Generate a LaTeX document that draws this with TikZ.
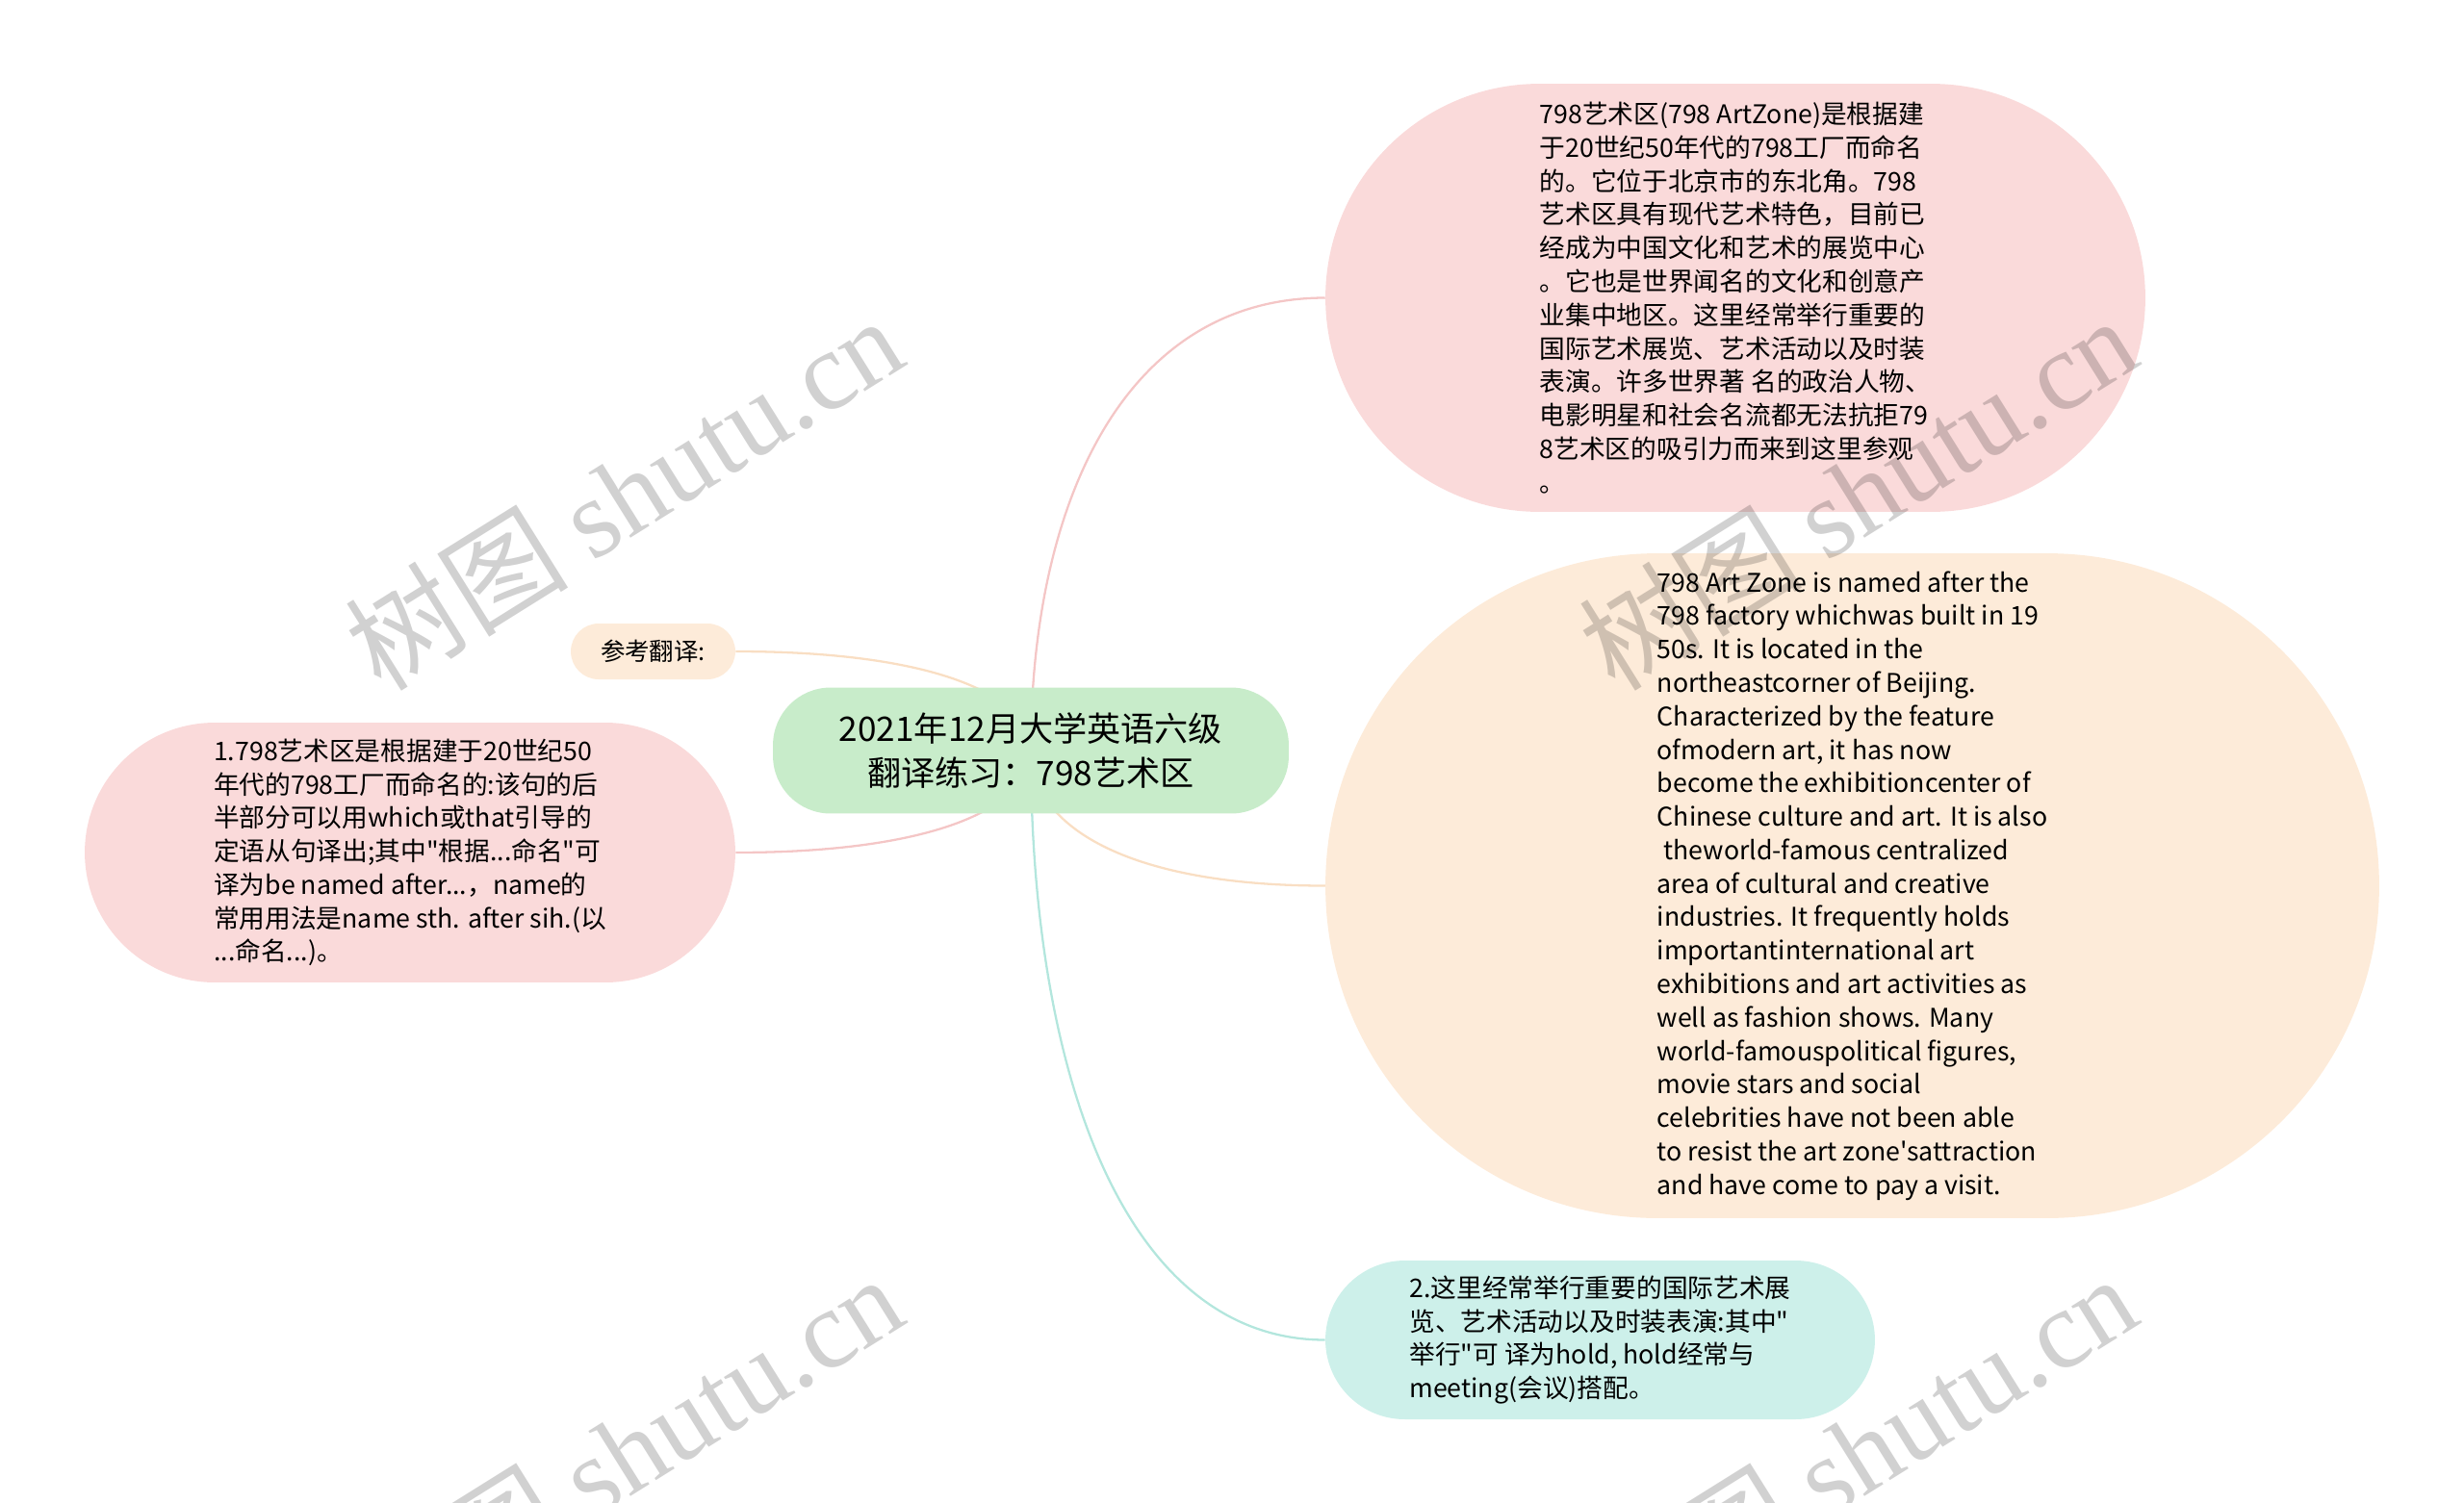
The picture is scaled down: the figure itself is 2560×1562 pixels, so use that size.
\documentclass[tikz,border=0pt]{standalone}
\usepackage{fontspec}
\setmainfont{Noto Sans CJK SC}[Ligatures=TeXOff]
\newfontfamily\wmfont{Liberation Serif}
\usepackage{tikz}
\usetikzlibrary{backgrounds,calc}
\definecolor{greenfill}{HTML}{C8ECCA}
\definecolor{pinkfill}{HTML}{FADADA}
\definecolor{peachfill}{HTML}{FDEBD9}
\definecolor{tealfill}{HTML}{CDF0EA}
\definecolor{pinkline}{HTML}{F4C6C6}
\definecolor{peachline}{HTML}{F9DEC3}
\definecolor{tealline}{HTML}{B3E6DD}

\begin{document}
\begin{tikzpicture}[x=0.02cm,y=-0.02cm,
    topic/.style={rounded corners=#1,inner sep=0pt,align=left,
      font=\fontsize{15.2}{19.8}\selectfont},
    link/.style={line width=1.3pt},
    wmtext/.style={rotate=32,text=black,text opacity=0.18,
      font=\fontsize{66}{66}\selectfont}]
    \useasboundingbox (0,0) rectangle (2560,1562);
    \node[topic=1.2cm,fill=greenfill,minimum width=10.72cm,minimum height=2.62cm,
      align=center,font=\fontsize{20}{26}\selectfont] (root) at (1071,780)
      {2021年12月大学英语六级\\翻译练习：798艺术区};
    \node[topic=4.45cm,fill=pinkfill,minimum width=17.04cm,minimum height=8.9cm] (zh) at (1803,309.5)
      {798艺术区(798 ArtZone)是根据建\\
       于20世纪50年代的798工厂而命名\\
       的。它位于北京市的东北角。798\\
       艺术区具有现代艺术特色，目前已\\
       经成为中国文化和艺术的展览中心\\
       。它也是世界闻名的文化和创意产\\
       业集中地区。这里经常举行重要的\\
       国际艺术展览、艺术活动以及时装\\
       表演。许多世界著 名的政治人物、\\
       电影明星和社会名流都无法抗拒79\\
       8艺术区的吸引力而来到这里参观\\
       。};
    \node[topic=6.9cm,fill=peachfill,minimum width=21.9cm,minimum height=13.82cm] (en) at (1924.5,920.5)
      {798 Art Zone is named after the\\
       798 factory whichwas built in 19\\
       50s. It is located in the\\
       northeastcorner of Beijing.\\
       Characterized by the feature\\
       ofmodern art, it has now\\
       become the exhibitioncenter of\\
       Chinese culture and art. It is also\\
       \hspace*{0.25em}theworld-famous centralized\\
       area of cultural and creative\\
       industries. It frequently holds\\
       importantinternational art\\
       exhibitions and art activities as\\
       well as fashion shows. Many\\
       world-famouspolitical figures,\\
       movie stars and social\\
       celebrities have not been able\\
       to resist the art zone'sattraction\\
       and have come to pay a visit.};
    \node[topic=0.58cm,fill=peachfill,minimum width=3.42cm,minimum height=1.16cm,
      font=\fontsize{14.5}{16}\selectfont] (ref) at (678.5,677) {参考翻译:};
    \node[topic=2.7cm,fill=pinkfill,minimum width=13.52cm,minimum height=5.4cm] (note1) at (426,886)
      {1.798艺术区是根据建于20世纪50\\
       年代的798工厂而命名的:该句的后\\
       半部分可以用which或that引导的\\
       定语从句译出;其中"根据...命名"可\\
       译为be named after...，name的\\
       常用用法是name sth. after sih.(以\\
       ...命名...)。};
    \node[topic=1.65cm,fill=tealfill,minimum width=11.42cm,minimum height=3.3cm] (note2) at (1662.5,1392.5)
      {2.这里经常举行重要的国际艺术展\\
       览、艺术活动以及时装表演:其中"\\
       举行"可 译为hold, hold经常与\\
       meeting(会议)搭配。};
    \begin{scope}[on background layer]
      \foreach \n/\c in {zh/pinkline,en/peachline,note2/tealline}
      {
        \draw[link,\c] (root.center) .. controls ($(root.center)!0.55!(root.center |- \n.west)$)
          and ($(root.center |- \n.west)!0.32!(\n.west)$) .. (\n.west);
      }
      \foreach \n/\c in {ref/peachline,note1/pinkline}
      {
        \draw[link,\c] (root.center) .. controls ($(root.center)!0.55!(root.center |- \n.east)$)
          and ($(root.center |- \n.east)!0.32!(\n.east)$) .. (\n.east);
      }
    \end{scope}
    \foreach \wx/\wy [count=\k] in {648/512,1930/512,648/1508,1930/1508}
    {
      \node[wmtext] (wm\k) at (\wx,\wy) {树图 {\wmfont shutu.cn}};
    }
  \end{tikzpicture}
\end{document}
